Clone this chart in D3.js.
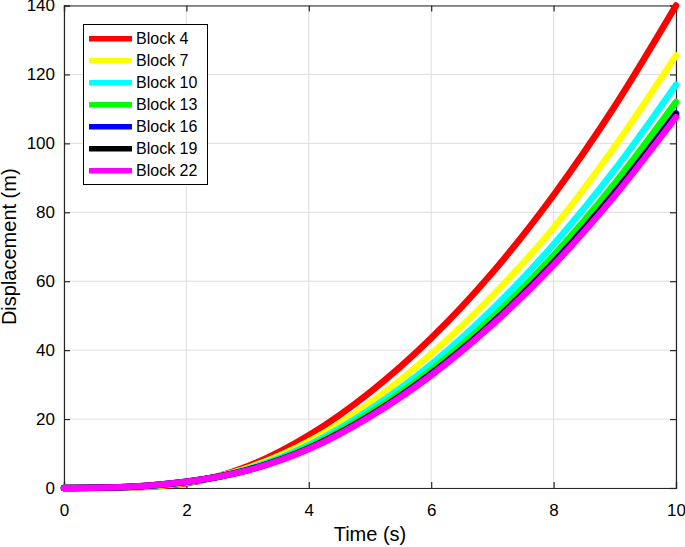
<!DOCTYPE html>
<html><head><meta charset="utf-8">
<script src="https://cdn.jsdelivr.net/npm/d3@7"></script>
<style>body{margin:0;background:#fff;} svg{display:block;}</style>
</head><body>
<svg id="chart" width="685" height="547"></svg>
<script>
const times = [0, 1, 2, 3, 4, 5, 6, 7, 8, 9, 10];
const seriesNames = ["Block 4", "Block 7", "Block 10", "Block 13", "Block 16", "Block 19", "Block 22"];
const seriesColors = ["#ff0000", "#ffff00", "#00ffff", "#00ff00", "#0000ff", "#000000", "#ff00ff"];
const block4  = [0, 0.15, 1.4, 6.3, 15.3, 27.8, 43.5, 62.5, 85.0, 110.8, 140.0];
const block7  = [0, 0.2, 1.6, 5.8, 13.5, 24.7, 38.9, 55.8, 75.5, 99.1, 125.5];
const block10 = [0, 0.25, 1.7, 5.5, 12.5, 22.8, 35.9, 51.9, 70.7, 92.4, 117.0];
const block13 = [0, 0.25, 1.7, 5.3, 11.9, 21.8, 34.3, 49.5, 67.5, 88.4, 112.0];
const block16 = [0, 0.3, 1.8, 5.2, 11.5, 21.0, 33.2, 48.0, 65.5, 85.8, 108.7];
const block19 = [0, 0.3, 1.8, 5.2, 11.5, 20.9, 33.0, 47.8, 65.2, 85.4, 108.2];
const block22 = [0, 0.3, 1.8, 5.1, 11.3, 20.7, 32.7, 47.4, 64.7, 84.8, 107.6];
const seriesValues = [block4, block7, block10, block13, block16, block19, block22];
const xTicks = [0, 2, 4, 6, 8, 10];
const yTicks = [0, 20, 40, 60, 80, 100, 120, 140];

const svg = d3.select("#chart");
const L = 64, R = 676, T = 5.5, B = 488;
const x = d3.scaleLinear().domain([0, 10]).range([L, R]);
const y = d3.scaleLinear().domain([0, 140]).range([B, T]);
const axisColor = "#262626";
const font = "Arial, 'Liberation Sans', Helvetica, sans-serif";

// grid
const g = svg.append("g");
g.selectAll(".gx").data(xTicks).enter().append("line")
  .attr("x1", d => x(d)).attr("x2", d => x(d)).attr("y1", T).attr("y2", B)
  .attr("stroke", "#dedede").attr("stroke-width", 1);
g.selectAll(".gy").data(yTicks).enter().append("line")
  .attr("y1", d => y(d)).attr("y2", d => y(d)).attr("x1", L).attr("x2", R)
  .attr("stroke", "#dedede").attr("stroke-width", 1);

// axes (ticks inward on all sides)
const tl = 6;
const ax = svg.append("g").attr("transform", `translate(0,${B})`)
  .call(d3.axisBottom(x).tickValues(xTicks).tickSize(-tl).tickPadding(tl + 10).tickFormat(d3.format("d")));
const axT = svg.append("g").attr("transform", `translate(0,${T})`)
  .call(d3.axisTop(x).tickValues(xTicks).tickSize(-tl).tickFormat(""));
const ay = svg.append("g").attr("transform", `translate(${L},0)`)
  .call(d3.axisLeft(y).tickValues(yTicks).tickSize(-tl).tickPadding(tl + 3).tickFormat(d3.format("d")));
const ayR = svg.append("g").attr("transform", `translate(${R},0)`)
  .call(d3.axisRight(y).tickValues(yTicks).tickSize(-tl).tickFormat(""));
[ax, axT, ay, ayR].forEach(a => {
  a.select(".domain").attr("stroke", axisColor).attr("stroke-width", 1.2);
  a.selectAll(".tick line").attr("stroke", axisColor).attr("stroke-width", 1.2);
  a.selectAll(".tick text").attr("fill", "#000").style("font-family", font).style("font-size", "17px");
});

// lines
const line = d3.line().x((d, i) => x(times[i])).y(d => y(d)).curve(d3.curveMonotoneX);
svg.append("g").selectAll("path").data(seriesValues).enter().append("path")
  .attr("d", d => line(d)).attr("fill", "none")
  .attr("stroke", (d, i) => seriesColors[i]).attr("stroke-width", 6.5)
  .attr("stroke-linecap", "round").attr("stroke-linejoin", "round");

// axis titles
svg.append("text").attr("x", (L + R) / 2).attr("y", 541).attr("text-anchor", "middle")
  .style("font-family", font).style("font-size", "20px").text("Time (s)");
svg.append("text").attr("transform", `translate(16,${(T + B) / 2}) rotate(-90)`).attr("text-anchor", "middle")
  .style("font-family", font).style("font-size", "20px").text("Displacement (m)");

// legend
const lg = svg.append("g");
lg.append("rect").attr("x", 83.5).attr("y", 24.5).attr("width", 124).attr("height", 160)
  .attr("fill", "#fff").attr("stroke", "#000").attr("stroke-width", 1);
const items = lg.selectAll(".it").data(seriesNames).enter().append("g")
  .attr("transform", (d, i) => `translate(0,${38.7 + i * 22})`);
items.append("line").attr("x1", 89).attr("x2", 132).attr("y1", 0).attr("y2", 0)
  .attr("stroke", (d, i) => seriesColors[i]).attr("stroke-width", 5.5);
items.append("text").attr("x", 136).attr("y", 5.5)
  .style("font-family", font).style("font-size", "16px").text(d => d);
</script>
</body></html>
